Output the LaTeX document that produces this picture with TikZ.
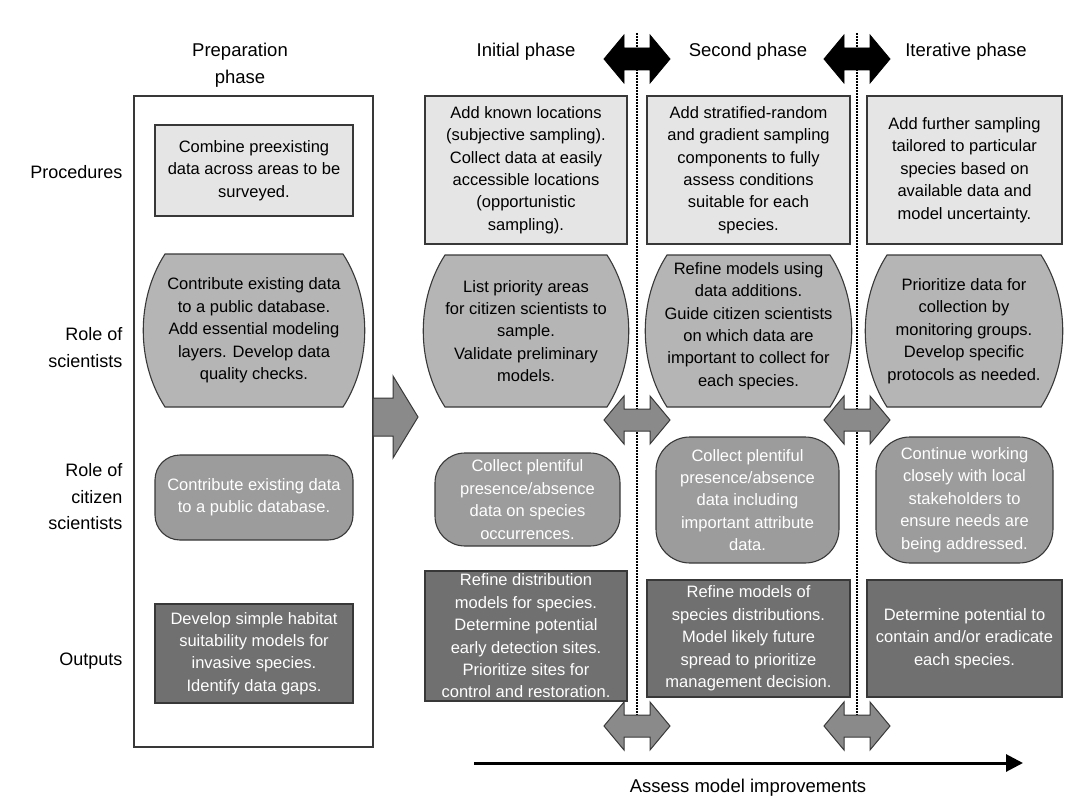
\documentclass[tikz,border=0pt]{standalone}
\usepackage{fontspec}
\setmainfont{Liberation Sans}
\usetikzlibrary{arrows.meta}

\definecolor{edge}{gray}{0.22}
\definecolor{procfill}{gray}{0.90}
\definecolor{scifill}{gray}{0.71}
\definecolor{citfill}{gray}{0.61}
\definecolor{outfill}{gray}{0.44}
\definecolor{arrowfill}{gray}{0.54}

% Box with straight top/bottom and outward-bulging sides: left, top, right, bottom
\newcommand\sciboard[4]{%
  \filldraw[fill=scifill, draw=edge, line width=1.1pt]
    (#1+22,#2) -- (#3-22,#2)
    .. controls (#3+7,#2+45) and (#3+7,#4-45) .. (#3-22,#4)
    -- (#1+22,#4)
    .. controls (#1-7,#4-45) and (#1-7,#2+45) .. cycle;}

% Two-headed block arrow: centre x, centre y, style
\newcommand\twoway[3]{%
  \filldraw[#3] (#1-33,#2) -- (#1-13,#2-24) -- (#1-13,#2-11) -- (#1+13,#2-11)
    -- (#1+13,#2-24) -- (#1+33,#2) -- (#1+13,#2+24) -- (#1+13,#2+11)
    -- (#1-13,#2+11) -- (#1-13,#2+24) -- cycle;}

\begin{document}
\begin{tikzpicture}[x=1pt,y=-1pt,
  boxtext/.style={align=center, font=\fontsize{16.5}{22.4}\selectfont, inner sep=0pt},
  procbox/.style={boxtext, draw=edge, line width=1.1pt, fill=procfill, text=black},
  scitext/.style={boxtext, text=black},
  citbox/.style={boxtext, draw=edge, line width=1.1pt, fill=citfill, text=white, rounded corners=28pt},
  outbox/.style={boxtext, draw=edge, line width=1.1pt, fill=outfill, text=white},
  heading/.style={align=center, font=\fontsize{18.5}{27}\selectfont},
  rowlabel/.style={align=right, anchor=east, font=\fontsize{18}{26.5}\selectfont},
  divider/.style={line width=2.4pt, dash pattern=on 1.6pt off 1.4pt},
  darkarrow/.style={fill=black, draw=black, line width=0.8pt},
  grayarrow/.style={fill=arrowfill, draw=edge, line width=1pt},
]
\useasboundingbox (0,0) rectangle (1069,800);

% column headings
\node[heading] (hprep) at (240,65.5) {Preparation\\phase};
\node[heading] (hinit) at (526,52) {Initial phase};
\node[heading] (hsec)  at (748,52) {Second phase};
\node[heading] (hiter) at (966,52) {Iterative phase};

% row labels
\node[rowlabel] (rproc) at (126,172) {Procedures};
\node[rowlabel] (rsci)  at (126,347.5) {Role of\\scientists};
\node[rowlabel] (rcit)  at (126,497) {Role of\\citizen\\scientists};
\node[rowlabel] (rout)  at (126,661) {Outputs};

% phase dividers
\coordinate (d1top) at (637,33);  \coordinate (d1bot) at (637,726);
\coordinate (d2top) at (857,33);  \coordinate (d2bot) at (857,726);
\draw[divider] (d1top) -- (d1bot);
\draw[divider] (d2top) -- (d2bot);

% preparation frame
\node[draw=edge, line width=1.1pt, fill=white, minimum width=239pt, minimum height=651pt, inner sep=0pt] (prep) at (253.5,421.5) {};
\filldraw[grayarrow] (373,398) -- (393,398) -- (393,376) -- (418,417) -- (393,458) -- (393,436) -- (373,436) -- cycle;

% preparation phase
\node[procbox, minimum width=198pt, minimum height=91pt] (p0) at (254,170.5)
  {Combine preexisting\\data across areas to be\\surveyed.};
\sciboard{143}{254}{365}{407}
\node[scitext] (s0) at (254,330.5)
  {Contribute existing data\\to a public database.\\Add essential modeling\\layers. Develop data\\quality checks.};
\node[citbox, minimum width=198pt, minimum height=85pt, rounded corners=25pt] (c0) at (254,497.5)
  {Contribute existing data\\to a public database.};
\node[outbox, minimum width=198pt, minimum height=99pt] (o0) at (254,653.5)
  {Develop simple habitat\\suitability models for\\invasive species.\\Identify data gaps.};

% initial phase
\node[procbox, minimum width=202pt, minimum height=148pt] (p1) at (526,170)
  {Add known locations\\(subjective sampling).\\Collect data at easily\\accessible locations\\(opportunistic\\sampling).};
\sciboard{423}{255}{629}{407}
\node[scitext] (s1) at (526,331)
  {List priority areas\\for citizen scientists to\\sample.\\Validate preliminary\\models.};
\node[citbox, minimum width=185pt, minimum height=93pt, rounded corners=30pt] (c1) at (527.5,499.5)
  {Collect plentiful\\presence/absence\\data on species\\occurrences.};
\node[outbox, minimum width=202pt, minimum height=130pt] (o1) at (526,636)
  {Refine distribution\\models for species.\\Determine potential\\early detection sites.\\Prioritize sites for\\control and restoration.};

% second phase
\node[procbox, minimum width=203pt, minimum height=148pt] (p2) at (748.5,170)
  {Add stratified-random\\and gradient sampling\\components to fully\\assess conditions\\suitable for each\\species.};
\sciboard{645}{255}{852}{407}
\node[scitext] (s2) at (748.5,326)
  {Refine models using\\data additions.\\Guide citizen scientists\\on which data are\\important to collect for\\each species.};
\node[citbox, minimum width=183pt, minimum height=126pt, rounded corners=34pt] (c2) at (747.5,500)
  {Collect plentiful\\presence/absence\\data including\\important attribute\\data.};
\node[outbox, minimum width=203pt, minimum height=117pt] (o2) at (748.5,638.5)
  {Refine models of\\species distributions.\\Model likely future\\spread to prioritize\\management decision.};

% iterative phase
\node[procbox, minimum width=195pt, minimum height=148pt] (p3) at (964.5,170)
  {Add further sampling\\tailored to particular\\species based on\\available data and\\model uncertainty.};
\sciboard{865}{255}{1063}{407}
\node[scitext] (s3) at (964,331)
  {Prioritize data for\\collection by\\monitoring groups.\\Develop specific\\protocols as needed.};
\node[citbox, minimum width=177pt, minimum height=126pt, rounded corners=34pt] (c3) at (964.5,500)
  {Continue working\\closely with local\\stakeholders to\\ensure needs are\\being addressed.};
\node[outbox, minimum width=195pt, minimum height=117pt] (o3) at (964.5,638.5)
  {Determine potential to\\contain and/or eradicate\\each species.};

% two-headed arrows on the dividers
\twoway{637}{59}{darkarrow}
\twoway{857}{59}{darkarrow}
\twoway{637}{420}{grayarrow}
\twoway{857}{420}{grayarrow}
\twoway{637}{726}{grayarrow}
\twoway{857}{726}{grayarrow}

% overall progression arrow
\coordinate (tl) at (474,763);
\coordinate (tr) at (1023,763);
\draw[line width=3pt, -{Triangle[length=17pt,width=17pt]}] (tl) -- (tr);
\node[heading] (assess) at (748,788) {Assess model improvements};
\end{tikzpicture}
\end{document}
